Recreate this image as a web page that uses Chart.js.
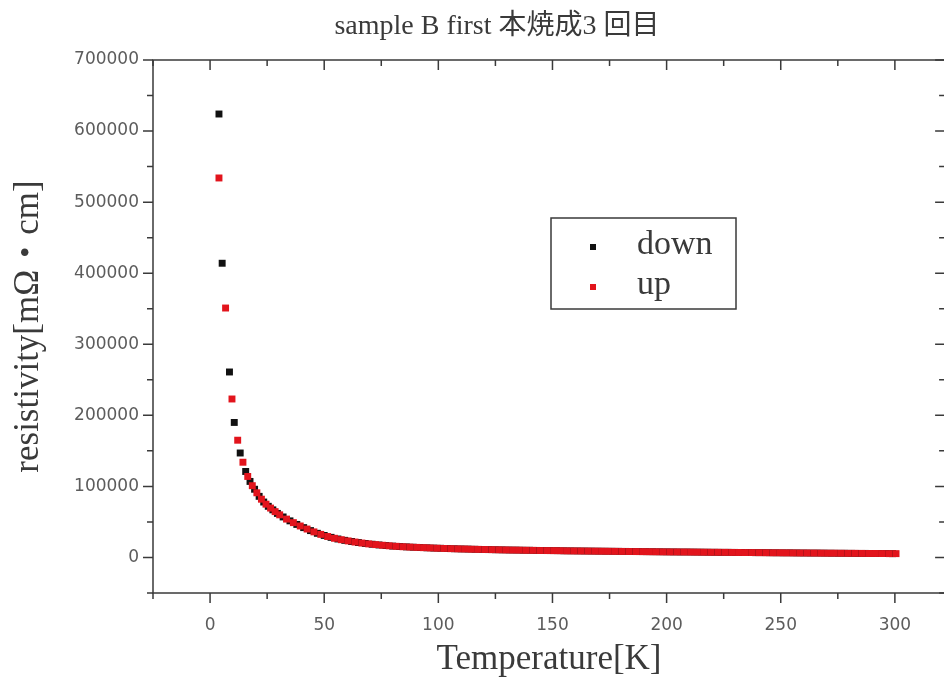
<!DOCTYPE html>
<html>
<head>
<meta charset="utf-8">
<script src="https://cdn.jsdelivr.net/npm/chart.js@4.4.1/dist/chart.umd.min.js"></script>
<style>
html, body { margin: 0; padding: 0; background: #fff; overflow: hidden; }
canvas { display: block; }
</style>
</head>
<body>
<canvas id="resistivity-chart" width="950" height="684"></canvas>
<script>
// Resistivity vs temperature, sample B
// ------------------------------
var CHART_TITLE = 'sample B first 本焼成3 回目';
var X_TITLE = 'Temperature[K]';
var Y_TITLE = 'resistivity[mΩ・cm]';

var X_TICKS = [0, 50, 100, 150, 200, 250, 300];
var Y_TICKS = [0, 100000, 200000, 300000, 400000, 500000, 600000, 700000];

// cooling run
var DOWN_T = [3.9, 5.3, 8.5, 10.6, 13.2, 15.6, 17.5, 19.5, 21.5, 23.5, 25.5, 27.5, 29.5,
    32, 35, 38, 41, 44, 47, 50, 53, 56, 59, 62, 65, 68, 71, 74, 77, 80, 83, 86, 89,
    92, 95, 98, 101, 104, 107, 110, 113, 116, 119, 122, 125, 128, 131, 134, 137, 140, 143, 146, 149,
    152, 155, 158, 161, 164, 167, 170, 173, 176, 179, 182, 185, 188, 191, 194, 197, 200, 203, 206, 209,
    212, 215, 218, 221, 224, 227, 230, 233, 236, 239, 242, 245, 248, 251, 254, 257, 260, 263, 266, 269,
    272, 275, 278, 281, 284, 287, 290, 293, 296, 299];
var DOWN_RHO = [624000, 414000, 261000, 190000, 147000, 121000, 107000, 96000, 86000, 78000, 72000, 67000, 62000,
    57000, 51500, 46500, 42000, 37800, 34000, 31000, 28300, 26000, 24100,
    22500, 21000, 19700, 18600, 17600, 16800, 16000, 15400, 14900, 14400,
    14000, 13600, 13200, 12900, 12600, 12300, 12000, 11800, 11500, 11300,
    11100, 10900, 10700, 10500, 10400, 10200, 10100, 9900, 9800, 9700,
    9600, 9400, 9300, 9200, 9100, 9000, 8900, 8800, 8700, 8600,
    8500, 8400, 8300, 8200, 8100, 8000, 7900, 7800, 7700, 7700,
    7600, 7500, 7400, 7300, 7200, 7200, 7100, 7000, 6900, 6800,
    6800, 6700, 6600, 6500, 6500, 6400, 6300, 6200, 6200, 6100,
    6000, 5900, 5900, 5800, 5700, 5700, 5600, 5500, 5500, 5400];

// warming run
var UP_T = [3.9, 6.8, 9.6, 12.1, 14.4, 16.5, 18.5, 20.5, 22.5, 24.5, 26.5, 28.5, 30.5,
    33.5, 36.5, 39.5, 42.5, 45.5, 48.5, 51.5, 54.5, 57.5, 60.5,
    63.5, 66.5, 69.5, 72.5, 75.5, 78.5, 81.5, 84.5, 87.5, 90.5,
    93.5, 96.5, 99.5, 102.5, 105.5, 108.5, 111.5, 114.5, 117.5, 120.5,
    123.5, 126.5, 129.5, 132.5, 135.5, 138.5, 141.5, 144.5, 147.5, 150.5,
    153.5, 156.5, 159.5, 162.5, 165.5, 168.5, 171.5, 174.5, 177.5, 180.5,
    183.5, 186.5, 189.5, 192.5, 195.5, 198.5, 201.5, 204.5, 207.5, 210.5,
    213.5, 216.5, 219.5, 222.5, 225.5, 228.5, 231.5, 234.5, 237.5, 240.5,
    243.5, 246.5, 249.5, 252.5, 255.5, 258.5, 261.5, 264.5, 267.5, 270.5,
    273.5, 276.5, 279.5, 282.5, 285.5, 288.5, 291.5, 294.5, 297.5, 300.5];
var UP_RHO = [534000, 351000, 223000, 165000, 134000, 114000, 101000, 91000, 82000, 75000, 69500, 64500, 60000,
    54000, 49000, 44300, 40000, 36000, 32500, 29500, 27000, 25000, 23300,
    21700, 20300, 19100, 18100, 17200, 16400, 15700, 15100, 14600, 14200,
    13800, 13400, 13000, 12700, 12400, 12100, 11900, 11600, 11400, 11200,
    11000, 10800, 10600, 10400, 10300, 10100, 10000, 9800, 9700, 9600,
    9500, 9300, 9200, 9100, 9000, 8900, 8800, 8700, 8600, 8500,
    8400, 8300, 8200, 8100, 8000, 7900, 7800, 7800, 7700, 7600,
    7500, 7400, 7300, 7300, 7200, 7100, 7000, 6900, 6900, 6800,
    6700, 6600, 6600, 6500, 6400, 6300, 6300, 6200, 6100, 6000,
    6000, 5900, 5800, 5800, 5700, 5600, 5600, 5500, 5400, 5400];

function toPoints(xs, ys) {
    return xs.map(function (x, i) { return { x: x, y: ys[i] }; });
}

var serif = '"Liberation Serif", "Noto Sans CJK JP", serif';
var axisColor = '#3a3a3a';

// frame with outward ticks on left/bottom and inward ticks on top/right
var frameTicks = {
    id: 'frameTicks',
    beforeDatasetsDraw: function (chart) {
        var ctx = chart.ctx, a = chart.chartArea;
        var xs = chart.scales.x, ys = chart.scales.y;
        ctx.save();
        ctx.strokeStyle = axisColor;
        ctx.lineWidth = 1.5;
        ctx.strokeRect(a.left, a.top, a.right - a.left, a.bottom - a.top);
        ctx.beginPath();
        for (var v = Math.ceil(xs.min / 25) * 25; v <= xs.max; v += 25) {
            var px = xs.getPixelForValue(v);
            var len = (v % 50 === 0) ? 10 : 6;
            ctx.moveTo(px, a.bottom); ctx.lineTo(px, a.bottom + len);
            ctx.moveTo(px, a.top); ctx.lineTo(px, a.top + len);
        }
        for (var w = Math.ceil(ys.min / 50000) * 50000; w <= ys.max; w += 50000) {
            var py = ys.getPixelForValue(w);
            var l2 = (w % 100000 === 0) ? 10 : 6;
            ctx.moveTo(a.left, py); ctx.lineTo(a.left - l2, py);
            ctx.moveTo(a.right, py); ctx.lineTo(a.right - l2, py);
        }
        ctx.stroke();
        ctx.restore();
    }
};

// title and boxed legend
var titleAndLegend = {
    id: 'titleAndLegend',
    afterDraw: function (chart) {
        var ctx = chart.ctx;
        ctx.save();
        ctx.fillStyle = '#3a3a3a';
        ctx.font = '28px ' + serif;
        ctx.textAlign = 'center';
        ctx.textBaseline = 'middle';
        ctx.fillText(CHART_TITLE, 497, 27);

        var bx = 551, by = 218, bw = 185, bh = 91;
        ctx.fillStyle = '#fff';
        ctx.fillRect(bx, by, bw, bh);
        ctx.strokeStyle = axisColor;
        ctx.lineWidth = 1.5;
        ctx.strokeRect(bx, by, bw, bh);
        ctx.textAlign = 'left';
        ctx.font = '34px ' + serif;
        chart.data.datasets.forEach(function (ds, i) {
            var cy = by + 29 + i * 40;
            ctx.fillStyle = ds.backgroundColor;
            ctx.fillRect(590, cy - 3, 6, 6);
            ctx.fillStyle = '#3a3a3a';
            ctx.fillText(ds.label, 637, cy - 2);
        });
        ctx.restore();
    }
};

var ctx = document.getElementById('resistivity-chart');

var chartData = {
    datasets: [{
        label: 'down',
        data: toPoints(DOWN_T, DOWN_RHO),
        backgroundColor: '#111111',
        borderColor: '#111111',
        pointStyle: 'rect',
        pointRadius: 4.9,
        borderWidth: 0,
        order: 2
    }, {
        label: 'up',
        data: toPoints(UP_T, UP_RHO),
        backgroundColor: '#e2141c',
        borderColor: '#e2141c',
        pointStyle: 'rect',
        pointRadius: 4.9,
        borderWidth: 0,
        order: 1
    }]
};

var chartOptions = {
    responsive: false,
    animation: false,
    layout: { padding: { top: 60, right: 2, left: 0, bottom: 0 } },
    plugins: {
        legend: { display: false },
        title: { display: false },
        tooltip: { enabled: false }
    },
    scales: {
        x: {
            type: 'linear',
            min: -25,
            max: 322,
            grid: { display: false, drawTicks: false },
            border: { display: false },
            afterBuildTicks: function (scale) {
                scale.ticks = X_TICKS.map(function (v) { return { value: v }; });
            },
            afterFit: function (scale) { scale.height = 91; },
            ticks: {
                autoSkip: false,
                maxRotation: 0,
                padding: 22,
                color: '#5c5c5c',
                font: { family: '"DejaVu Sans"', size: 17 },
                callback: function (v) { return String(v); }
            },
            title: {
                display: true,
                text: X_TITLE,
                color: '#3a3a3a',
                font: { family: serif, size: 35 },
                padding: { top: 0, bottom: 3 }
            }
        },
        y: {
            type: 'linear',
            min: -50000,
            max: 700000,
            grid: { display: false, drawTicks: false },
            border: { display: false },
            afterBuildTicks: function (scale) {
                scale.ticks = Y_TICKS.map(function (v) { return { value: v }; });
            },
            afterFit: function (scale) { scale.width = 153; },
            ticks: {
                autoSkip: false,
                padding: 14,
                color: '#5c5c5c',
                font: { family: '"DejaVu Sans"', size: 17 },
                callback: function (v) { return String(v); }
            },
            title: {
                display: true,
                text: Y_TITLE,
                color: '#3a3a3a',
                font: { family: serif, size: 35 },
                padding: { top: 8, bottom: 0 }
            }
        }
    }
};

var config = {
    type: 'scatter',
    data: chartData,
    options: chartOptions,
    plugins: [frameTicks, titleAndLegend]
};

var resistivityChart = new Chart(ctx, config);
</script>
</body>
</html>
